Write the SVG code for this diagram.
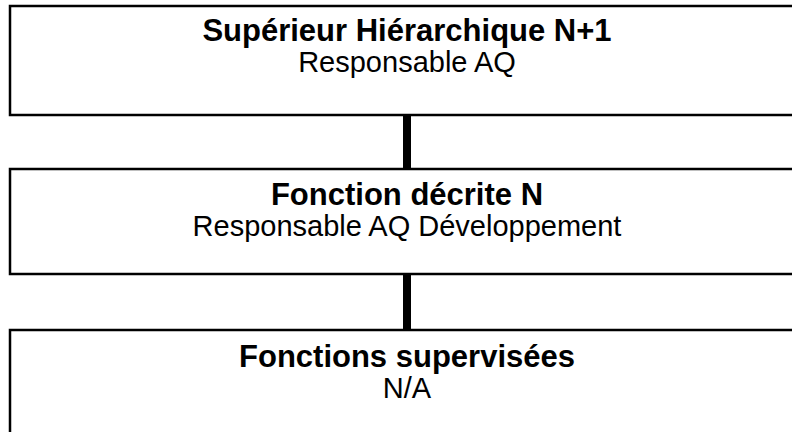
<svg xmlns="http://www.w3.org/2000/svg" width="792" height="432" viewBox="0 0 792 432">
<style>
.box{fill:#fff;stroke:#000;stroke-width:2.5}
.t1{font-family:"Liberation Sans",Arial,sans-serif;font-weight:bold;font-size:31px;text-anchor:middle;fill:#000}
.t2{font-family:"Liberation Sans",Arial,sans-serif;font-size:29px;text-anchor:middle;fill:#000}
.conn{stroke:#000;stroke-width:8;fill:none}
</style>
<rect width="792" height="432" fill="#fff"/>
<g id="connectors">
<line class="conn" x1="407" y1="115" x2="407" y2="169"/>
<line class="conn" x1="407" y1="274" x2="407" y2="330"/>
</g>
<g id="node-superieur">
<rect class="box" x="10" y="6" width="800" height="109"/>
<text class="t1" x="407" y="41">Supérieur Hiérarchique N+1</text>
<text class="t2" x="407" y="72">Responsable AQ</text>
</g>
<g id="node-fonction">
<rect class="box" x="10" y="169" width="800" height="105"/>
<text class="t1" x="407" y="205">Fonction décrite N</text>
<text class="t2" x="407" y="236">Responsable AQ Développement</text>
</g>
<g id="node-supervisees">
<rect class="box" x="10" y="330" width="800" height="120"/>
<text class="t1" x="407" y="367">Fonctions supervisées</text>
<text class="t2" x="407" y="398">N/A</text>
</g>
</svg>
